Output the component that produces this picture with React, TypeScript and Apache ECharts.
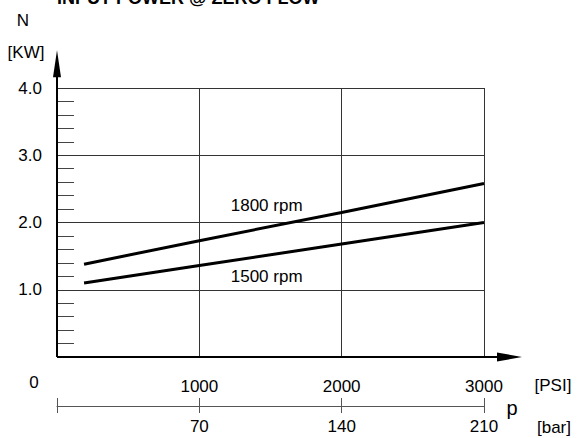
import React, { useEffect, useRef } from "react";
import * as echarts from "echarts";

const TITLE = "INPUT POWER @ ZERO FLOW";
const seriesNames = ["1800 rpm", "1500 rpm"];
const pressurePsi = [190, 1000, 2000, 3000];
const power1800 = [1.38, 1.73, 2.15, 2.58];
const power1500 = [1.1, 1.36, 1.68, 2.0];
const psiMin = 0;
const psiMax = 3000;
const psiStep = 1000;
const barMin = 0;
const barMax = 210;
const barStep = 70;
const powerMin = 0;
const powerMax = 4;
const powerStep = 1;
// annotation anchors in data coordinates [psi, kW]
const labelAnchors = [
  [1473, 2.26],
  [1473, 1.19],
];
const arrowEndPsi = 3267;
const arrowEndPower = 4.56;

const FONT = "'Liberation Sans', Arial, sans-serif";

export default function App() {
  const ref = useRef<HTMLDivElement>(null);
  useEffect(() => {
    if (!ref.current) return;
    const chart = echarts.init(ref.current, null, { renderer: "svg" });
    const textStyle = { color: "#000", fontSize: 17, fontFamily: FONT };
    chart.setOption({
      animation: false,
      backgroundColor: "#fff",
      grid: {
        left: 57,
        right: 93,
        top: 88,
        bottom: 81,
        containLabel: false,
        outerBoundsMode: "none",
      },
      xAxis: [
        {
          type: "value",
          min: psiMin,
          max: psiMax,
          interval: psiStep,
          axisLine: { show: false },
          axisTick: { show: false },
          splitLine: { show: true, lineStyle: { color: "#333", width: 1 } },
          axisLabel: {
            ...textStyle,
            margin: 21,
            formatter: (v: number) => (v === 0 ? "" : String(v)),
          },
        },
        {
          type: "value",
          position: "bottom",
          offset: 49,
          min: barMin,
          max: barMax,
          interval: barStep,
          axisLine: { show: true, lineStyle: { color: "#555", width: 1 } },
          axisTick: { show: true, length: 7, lineStyle: { color: "#555", width: 1 } },
          splitLine: { show: false },
          axisLabel: {
            ...textStyle,
            margin: 12,
            formatter: (v: number) => (v === 0 ? "" : String(v)),
          },
        },
        {
          type: "value",
          position: "bottom",
          offset: 49,
          min: barMin,
          max: barMax,
          interval: barStep,
          axisLine: { show: false },
          axisTick: { show: true, inside: true, length: 8, lineStyle: { color: "#555", width: 1 } },
          splitLine: { show: false },
          axisLabel: { show: false },
        },
      ],
      yAxis: {
        type: "value",
        min: powerMin,
        max: powerMax,
        interval: powerStep,
        axisLine: { show: false },
        axisTick: { show: false, inside: true },
        minorTick: { show: true, splitNumber: 5, length: 17, lineStyle: { color: "#444", width: 1 } },
        splitLine: { show: true, lineStyle: { color: "#333", width: 1 } },
        axisLabel: {
          ...textStyle,
          margin: 15,
          padding: [6, 0, 0, 0],
          formatter: (v: number) => (v === 0 ? "" : v.toFixed(1)),
        },
      },
      series: [
        {
          name: seriesNames[0],
          type: "line",
          xAxisIndex: 0,
          yAxisIndex: 0,
          data: pressurePsi.map((p, i) => [p, power1800[i]]),
          showSymbol: false,
          symbol: "none",
          silent: true,
          lineStyle: { color: "#000", width: 3 },
          z: 5,
        },
        {
          name: seriesNames[1],
          type: "line",
          xAxisIndex: 0,
          yAxisIndex: 0,
          data: pressurePsi.map((p, i) => [p, power1500[i]]),
          showSymbol: false,
          symbol: "none",
          silent: true,
          lineStyle: { color: "#000", width: 3 },
          z: 5,
        },
      ],
    });

    const px = (v: number[]) => chart.convertToPixel({ seriesIndex: 0 }, v) as number[];
    const O = px([psiMin, powerMin]);
    const tipX = px([arrowEndPsi, powerMin]);
    const tipY = px([psiMin, arrowEndPower]);
    const xEnd = px([psiMax, powerMin]);

    const txt = (text: string, x: number, y: number, extra: any = {}) => ({
      type: "text",
      z: 10,
      style: {
        text,
        x,
        y,
        fill: "#000",
        font: `17px ${FONT}`,
        align: "center",
        verticalAlign: "middle",
        ...extra,
      },
    });

    const graphics: any[] = [
      {
        type: "line",
        z: 8,
        shape: { x1: O[0], y1: O[1], x2: O[0], y2: tipY[1] + 22 },
        style: { stroke: "#000", lineWidth: 2 },
      },
      {
        type: "polygon",
        z: 8,
        shape: {
          points: [
            [O[0], tipY[1]],
            [O[0] - 4, tipY[1] + 27],
            [O[0] + 4, tipY[1] + 27],
          ],
        },
        style: { fill: "#000" },
      },
      {
        type: "line",
        z: 8,
        shape: { x1: O[0], y1: O[1], x2: tipX[0] - 20, y2: O[1] },
        style: { stroke: "#000", lineWidth: 2 },
      },
      {
        type: "polygon",
        z: 8,
        shape: {
          points: [
            [tipX[0], O[1]],
            [tipX[0] - 25, O[1] - 4.5],
            [tipX[0] - 25, O[1] + 4.5],
          ],
        },
        style: { fill: "#000" },
      },
      txt(TITLE, O[0], -2, { align: "left", font: `bold 18px ${FONT}` }),
      txt("N", 23, 20),
      txt("[KW]", 26, 52),
      txt("0", 34, 382),
      txt("[PSI]", 553, 385),
      txt("p", xEnd[0] + 28, 408, { font: `20px ${FONT}` }),
      txt("[bar]", 554, 427),
    ];
    labelAnchors.forEach((a, i) => {
      const p = px(a);
      graphics.push(txt(seriesNames[i], p[0], p[1]));
    });
    chart.setOption({ graphic: graphics });

    return () => chart.dispose();
  }, []);
  return (
    <div
      ref={ref}
      style={{ position: "absolute", left: 0, top: 0, width: 577, height: 438 }}
    />
  );
}
